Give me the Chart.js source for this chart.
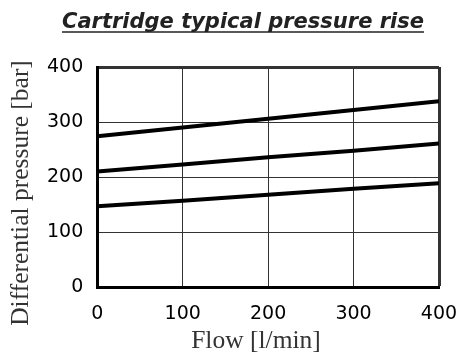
<!DOCTYPE html>
<html lang="en">
<head>
  <meta charset="UTF-8">
  <title>Cartridge typical pressure rise</title>
  <script src="https://cdn.jsdelivr.net/npm/chart.js"></script>
  <style>
    html, body { margin: 0; padding: 0; background: #fff; }
    #wrap { width: 462px; height: 354px; }
  </style>
</head>
<body>
  <div id="wrap"><canvas id="pressureChart"></canvas></div>

  <script>
    // Flow points (l/min) and pressure readings (bar) for the three cartridges
    const flow = [0, 100, 200, 300, 400];
    const highSetting = [274, 290, 306, 322, 338];
    const midSetting = [210, 223, 236, 248, 261];
    const lowSetting = [147, 157, 168, 179, 189];

    const xTicks = [0, 100, 200, 300, 400];
    const yTicks = [0, 100, 200, 300, 400];

    const titleText = 'Cartridge typical pressure rise';
    const xTitle = 'Flow [l/min]';
    const yTitle = 'Differential pressure [bar]';

    const titleFont = 'italic bold 21px "DejaVu Sans", sans-serif';
    const axisTitleFont = '25.5px "Liberation Serif", "DejaVu Serif", serif';
    const tickFont = { family: '"DejaVu Sans", sans-serif', size: 19 };

    function toPoints(ys) {
      return flow.map((x, i) => ({ x: x, y: ys[i] }));
    }

    function lineSet(ys) {
      return {
        data: toPoints(ys),
        borderColor: '#000',
        borderWidth: 4,
        pointRadius: 0,
        fill: false,
        tension: 0
      };
    }

    // Underlined heading plus the two axis captions
    const captions = {
      id: 'captions',
      afterDraw(chart) {
        const ctx = chart.ctx;
        ctx.save();
        ctx.textAlign = 'center';
        ctx.textBaseline = 'alphabetic';

        // heading
        ctx.font = titleFont;
        ctx.fillStyle = '#222';
        const cx = 243;
        const base = 28;
        ctx.fillText(titleText, cx, base);
        const w = ctx.measureText(titleText).width;
        ctx.strokeStyle = '#222';
        ctx.lineWidth = 1.5;
        ctx.beginPath();
        ctx.moveTo(cx - w / 2, base + 4);
        ctx.lineTo(cx + w / 2, base + 4);
        ctx.stroke();

        // axis captions
        ctx.font = axisTitleFont;
        ctx.fillStyle = '#333';
        ctx.textBaseline = 'middle';
        ctx.fillText(xTitle, 256, 341);

        ctx.translate(21, 193);
        ctx.rotate(-Math.PI / 2);
        ctx.fillText(yTitle, 0, 0);
        ctx.restore();
      }
    };

    function edgeWidth(values) {
      return c => (c.index === values.length - 1 ? 3 : 1);
    }

    new Chart(document.getElementById('pressureChart'), {
      type: 'line',
      data: {
        datasets: [lineSet(highSetting), lineSet(midSetting), lineSet(lowSetting)]
      },
      options: {
        responsive: true,
        maintainAspectRatio: false,
        animation: false,
        layout: { padding: { left: 33, right: 2, top: 67, bottom: 14 } },
        plugins: {
          legend: { display: false },
          tooltip: { enabled: false },
          title: { display: false }
        },
        scales: {
          x: {
            type: 'linear',
            min: 0,
            max: 400,
            afterBuildTicks: s => { s.ticks = xTicks.map(v => ({ value: v })); },
            afterFit: s => { s.paddingRight = 23; },
            ticks: { color: '#000', font: tickFont, padding: 15 },
            grid: { color: '#333', lineWidth: edgeWidth(xTicks), drawTicks: false },
            border: { color: '#000', width: 3 }
          },
          y: {
            type: 'linear',
            min: 0,
            max: 400,
            afterBuildTicks: s => { s.ticks = yTicks.map(v => ({ value: v })); },
            ticks: { color: '#000', font: tickFont, padding: 14 },
            grid: { color: '#333', lineWidth: edgeWidth(yTicks), drawTicks: false },
            border: { color: '#000', width: 3 }
          }
        }
      },
      plugins: [captions]
    });
  </script>
</body>
</html>
